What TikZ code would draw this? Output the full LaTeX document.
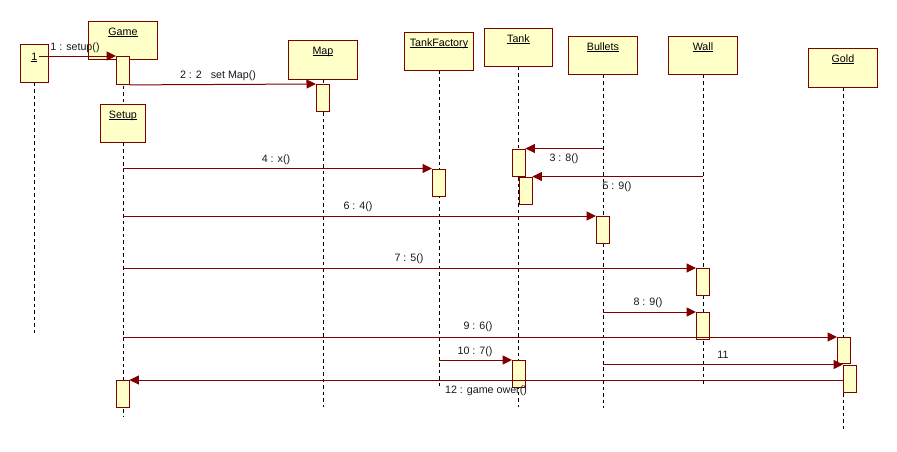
\documentclass[tikz,border=0pt]{standalone}
\usepackage{fontspec}
\setmainfont{Liberation Sans}
\usetikzlibrary{arrows.meta,backgrounds}
\definecolor{umlred}{RGB}{128,0,0}
\definecolor{umlfill}{RGB}{255,255,200}
\newcommand\objname[1]{\setbox0\hbox{#1}\rlap{\rule[-1.2pt]{\wd0}{0.6pt}}\box0}
\begin{document}
\begin{tikzpicture}[x=1pt,y=-1pt,
  font=\fontsize{10.7}{12}\selectfont,
  objbox/.style={draw=umlred, fill=umlfill, line width=0.9pt, anchor=north west,
    inner xsep=0pt, inner ysep=2pt, text height=12pt, text depth=22pt, minimum width=69pt},
  act/.style={draw=umlred, fill=umlfill, line width=0.9pt, anchor=north west,
    inner sep=0pt, minimum width=12.5pt, minimum height=27pt},
  msg/.style={draw=umlred, line width=1pt, -{Triangle[length=9.5pt,width=9pt]}},
  lifeline/.style={draw=black, line width=0.8pt, dash pattern=on 3.5pt off 3pt},
  lbl/.style={inner sep=0pt, text=black!90}]
\useasboundingbox (0,0) rectangle (897,451);

% objects
\node[objbox, minimum width=28pt, text height=14pt, text depth=20pt] (one) at (20,44) {\objname{1}};
\node[objbox] (game) at (88,21) {\objname{Game}};
\node[objbox, text depth=23pt] (map) at (288,40) {\objname{Map}};
\node[objbox, minimum width=45pt] (setup) at (100,104) {\objname{Setup}};
\node[objbox] (tankfactory) at (404,32) {\objname{TankFactory}};
\node[objbox, minimum width=68pt] (tank) at (484,28) {\objname{Tank}};
\node[objbox] (bullets) at (568,36) {\objname{Bullets}};
\node[objbox] (wall) at (668,36) {\objname{Wall}};
\node[objbox, text depth=23pt] (gold) at (808,48) {\objname{Gold}};

% lifelines
\begin{scope}[on background layer]
\draw[lifeline] (one.south) -- (one.south |- 0,333);
\draw[lifeline] (game.south) -- (setup.north);
\draw[lifeline] (setup.south) -- (setup.south |- 0,417);
\draw[lifeline] (map.south) -- (map.south |- 0,407);
\draw[lifeline] (tankfactory.south) -- (tankfactory.south |- 0,387);
\draw[lifeline] (tank.south) -- (tank.south |- 0,407);
\draw[lifeline] (bullets.south) -- (bullets.south |- 0,408);
\draw[lifeline] (wall.south) -- (wall.south |- 0,385);
\draw[lifeline] (gold.south) -- (gold.south |- 0,430);
\end{scope}

% activations
\node[act, minimum height=28pt] (a1) at (116,56) {};
\node[act] (a2) at (316,84) {};
\node[act] (a3) at (512,148.5) {};
\node[act] (a4) at (432,168.5) {};
\node[act] (a5) at (519,176.5) {};
\node[act] (a6) at (596,216) {};
\node[act] (a7) at (696,268) {};
\node[act] (a8) at (696,312) {};
\node[act, minimum height=26pt] (a9) at (837,337) {};
\node[act] (a10) at (512,360) {};
\node[act] (a11) at (843,364.5) {};
\node[act] (a12) at (116,380) {};

% messages
\coordinate (m1s) at (38.5,56);
\draw[msg] (m1s) -- (a1.north west);
\draw[msg] (a1.south east) -- (a2.north west);
\draw[msg] (a3.north east -| bullets.south) -- (a3.north east);
\draw[msg] (a4.north west -| setup.south) -- (a4.north west);
\draw[msg] (a5.north east -| wall.south) -- (a5.north east);
\draw[msg] (a6.north west -| setup.south) -- (a6.north west);
\draw[msg] (a7.north west -| setup.south) -- (a7.north west);
\draw[msg] (a8.north west -| bullets.south) -- (a8.north west);
\draw[msg] (a9.north west -| setup.south) -- (a9.north west);
\draw[msg] (a10.north west -| tankfactory.south) -- (a10.north west);
\draw[msg] (a11.north west -| bullets.south) -- (a11.north west);
\draw[msg] (a12.north east -| a11.west) -- (a12.north east);

% labels
\node[lbl] (l1) at (75,47.5) {1 : setup()};
\node[lbl] (l2) at (218,76) {2 : 2 \ \ set Map()};
\node[lbl] (l3) at (564,159) {3 : 8()};
\node[lbl] (l4) at (276,159.5) {4 : x()};
\node[lbl] (l5) at (617,187) {5 : 9()};
\node[lbl] (l6) at (358,207) {6 : 4()};
\node[lbl] (l7) at (409,259) {7 : 5()};
\node[lbl] (l8) at (648,303) {8 : 9()};
\node[lbl] (l9) at (478,327) {9 : 6()};
\node[lbl] (l10) at (475,352) {10 : 7()};
\node[lbl] (l11) at (723,355) {11};
\node[lbl] (l12) at (486,391) {12 : game ower()};
\end{tikzpicture}
\end{document}
